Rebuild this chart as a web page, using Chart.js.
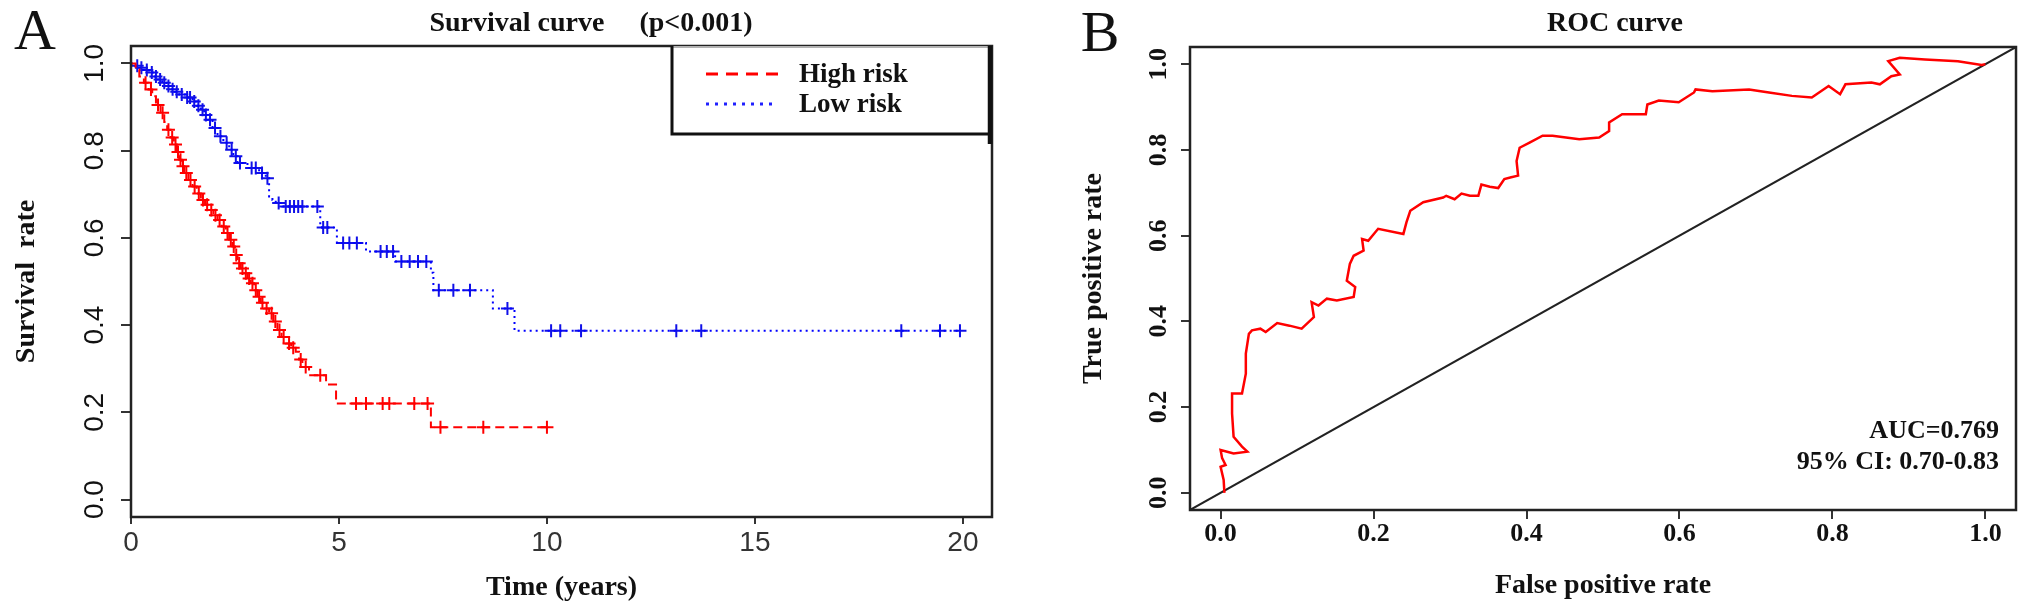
<!DOCTYPE html>
<html>
<head>
<meta charset="utf-8">
<title>Survival and ROC curves</title>
<script src="https://cdn.jsdelivr.net/npm/chart.js@4.4.0/dist/chart.umd.min.js"></script>
<style>
  html, body { margin: 0; padding: 0; background: #fff; }
  #wrap { position: relative; width: 2031px; height: 614px; overflow: hidden; }
  #survival-chart { position: absolute; left: 0; top: 0; }
  #roc-chart { position: absolute; left: 1030px; top: 0; }
</style>
</head>
<body>
<div id="wrap">
  <canvas id="survival-chart" width="1030" height="614"></canvas>
  <canvas id="roc-chart" width="1001" height="614"></canvas>
</div>
<script>
// ---- panel A: Kaplan-Meier curves (time in years, survival rate) ----
var highTime = [0, 0.11, 0.2, 0.31, 0.42, 0.51, 0.6, 0.71, 0.8, 0.87, 0.95, 1.03, 1.1, 1.16, 1.22, 1.28, 1.38, 1.48, 1.58,
  1.68, 1.78, 1.88, 1.98, 2.08, 2.18, 2.28, 2.36, 2.44, 2.5, 2.56, 2.64, 2.72, 2.8, 2.88, 2.96, 3.04, 3.12, 3.2, 3.32,
  3.42, 3.52, 3.62, 3.72, 3.85, 3.96, 4.04, 4.12, 4.28, 4.69, 4.93, 7.21, 10.0];
var highSurv = [1.0, 0.986, 0.97, 0.956, 0.94, 0.925, 0.905, 0.887, 0.866, 0.848, 0.83, 0.814, 0.797, 0.779, 0.764, 0.749, 0.733, 0.718, 0.702,
  0.687, 0.676, 0.664, 0.652, 0.641, 0.626, 0.611, 0.596, 0.58, 0.561, 0.542, 0.53, 0.519, 0.507, 0.496, 0.48, 0.465, 0.451, 0.438, 0.427,
  0.408, 0.389, 0.373, 0.358, 0.348, 0.339, 0.321, 0.304, 0.285, 0.264, 0.22, 0.166, 0.166];
var highCensor = [0.35, 0.48, 0.65, 0.76, 0.9, 0.99, 1.07, 1.13, 1.19, 1.25, 1.33, 1.43, 1.53, 1.63, 1.73, 1.83, 1.93, 2.03, 2.13,
  2.23, 2.32, 2.4, 2.47, 2.53, 2.6, 2.68, 2.76, 2.84, 2.92, 3.0, 3.08, 3.16, 3.26, 3.38, 3.47, 3.57, 3.67, 3.8, 3.9, 4.08,
  4.2, 4.55, 5.41, 5.65, 6.05, 6.21, 6.81, 7.13, 7.44, 8.47, 10.0];

var lowTime = [0, 0.1, 0.2, 0.3, 0.43, 0.55, 0.65, 0.75, 0.85, 0.95, 1.05, 1.16, 1.3, 1.48, 1.58, 1.68, 1.76, 1.84, 1.96,
  2.08, 2.22, 2.36, 2.46, 2.56, 2.8, 3.08, 3.24, 3.32, 3.4, 3.48, 3.64, 4.55, 4.95, 5.65, 6.35, 7.21, 7.27, 8.7, 9.22, 19.93];
var lowSurv = [1.0, 0.995, 0.99, 0.985, 0.979, 0.97, 0.963, 0.956, 0.948, 0.941, 0.935, 0.929, 0.922, 0.913, 0.903, 0.894, 0.882, 0.871, 0.852,
  0.833, 0.818, 0.802, 0.787, 0.772, 0.76, 0.749, 0.737, 0.695, 0.687, 0.68, 0.672, 0.624, 0.588, 0.569, 0.546, 0.52, 0.48, 0.438, 0.387, 0.387];
var lowCensor = [0.15, 0.25, 0.38, 0.5, 0.6, 0.7, 0.8, 0.9, 1.0, 1.1, 1.22, 1.35, 1.42, 1.52, 1.62, 1.72, 1.8, 1.9, 2.02, 2.15,
  2.3, 2.42, 2.52, 2.62, 2.9, 3.0, 3.15, 3.28, 3.55, 3.72, 3.82, 3.92, 4.02, 4.12, 4.48, 4.62, 4.72, 5.1, 5.25, 5.43,
  6.0, 6.15, 6.3, 6.5, 6.7, 6.9, 7.1, 7.4, 7.75, 8.15, 9.05, 10.1, 10.32, 10.82, 13.11, 13.71, 18.52, 19.45, 19.93];

var survTicksX = [0, 5, 10, 15, 20];
var survTicksY = [0, 0.2, 0.4, 0.6, 0.8, 1.0];

// ---- panel B: ROC curve ----
var rocFpr = [0.005, 0.004, 0.0, 0.0065, 0.002, 0.0, 0.017, 0.035, 0.028, 0.017, 0.015, 0.015, 0.028, 0.033, 0.033, 0.037, 0.041,
  0.052, 0.059, 0.074, 0.09, 0.106, 0.122, 0.119, 0.128, 0.139, 0.152, 0.174, 0.176, 0.165, 0.169, 0.174, 0.187, 0.185, 0.193,
  0.206, 0.239, 0.243, 0.248, 0.265, 0.291, 0.295, 0.306, 0.315, 0.326, 0.337, 0.341, 0.352, 0.363, 0.371, 0.38, 0.389, 0.387,
  0.391, 0.404, 0.421, 0.434, 0.469, 0.495,
  0.508, 0.508, 0.525, 0.556, 0.558, 0.573, 0.599, 0.619, 0.621, 0.643, 0.691, 0.717, 0.747, 0.773, 0.795, 0.81, 0.817, 0.851,
  0.862, 0.877, 0.888, 0.873, 0.888, 0.921, 0.964, 0.995, 1.0];
var rocTpr = [0.0, 0.03, 0.061, 0.065, 0.081, 0.1, 0.092, 0.096, 0.108, 0.131, 0.185, 0.232, 0.232, 0.278, 0.325, 0.371, 0.379,
  0.383, 0.375, 0.396, 0.39, 0.383, 0.41, 0.445, 0.437, 0.453, 0.449, 0.457, 0.48, 0.495, 0.534, 0.553, 0.565, 0.592, 0.588,
  0.616, 0.604, 0.631, 0.658, 0.678, 0.689, 0.693, 0.685, 0.698, 0.693, 0.693, 0.719, 0.714, 0.711, 0.732, 0.736, 0.74, 0.774,
  0.805, 0.817, 0.833, 0.833, 0.825, 0.829,
  0.844, 0.864, 0.883, 0.883, 0.906, 0.915, 0.911, 0.934, 0.941, 0.937, 0.941, 0.934, 0.926, 0.922, 0.949, 0.93, 0.953, 0.957,
  0.953, 0.972, 0.976, 1.007, 1.015, 1.011, 1.007, 0.998, 1.0];
var diagFpr = [-0.04, 1.04];
var diagTpr = [-0.04, 1.04];
var rocTicks = [0, 0.2, 0.4, 0.6, 0.8, 1.0];

var SERIF = '"Liberation Serif", "Times New Roman", serif';
var SANS = '"Liberation Sans", Arial, sans-serif';

function toPoints(xs, ys) {
  return xs.map(function(x, i) { return {x: x, y: ys[i]}; });
}

// survival value of a step curve at time t (for placing the censor marks on it)
function survAt(times, surv, t) {
  var v = surv[0];
  for (var i = 0; i < times.length; i++) {
    if (times[i] <= t + 1e-9) v = surv[i];
  }
  return v;
}

function censorPoints(times, surv, cens) {
  return cens.map(function(t) { return {x: t, y: survAt(times, surv, t)}; });
}

function fixedTicks(list) {
  return function(scale) {
    scale.ticks = list.map(function(v) { return {value: v}; });
  };
}

// draws the frame box, panel letter, title, rotated y labels (+ legend / notes)
function panelPlugin(cfg) {
  return {
    id: 'panel',
    afterDraw: function(chart) {
      var ctx = chart.ctx, ca = chart.chartArea, ys = chart.scales.y;
      ctx.save();

      ctx.strokeStyle = '#222';
      ctx.lineWidth = 2.5;
      ctx.strokeRect(ca.left, ca.top, ca.right - ca.left, ca.bottom - ca.top);

      ctx.fillStyle = '#111';
      ctx.textBaseline = 'middle';
      ctx.textAlign = 'center';
      ctx.font = '58px ' + SERIF;
      ctx.fillText(cfg.letter, cfg.letterX, cfg.letterY);

      ctx.font = 'bold 28px ' + SERIF;
      ctx.fillText(cfg.title, cfg.titleX, cfg.titleY);

      ctx.font = cfg.yFont;
      ys.ticks.forEach(function(tk) {
        var py = ys.getPixelForValue(tk.value);
        ctx.save();
        ctx.translate(cfg.yLabelX, py);
        ctx.rotate(-Math.PI / 2);
        ctx.fillText(tk.value.toFixed(1), 0, 0);
        ctx.restore();
      });

      if (cfg.legend) {
        var bx = ca.right - 320, by = ca.top, bw = 319, bh = 88;
        ctx.fillStyle = '#fff';
        ctx.fillRect(bx, by, bw, bh);
        ctx.strokeStyle = '#999';
        ctx.lineWidth = 1.5;
        ctx.beginPath(); ctx.moveTo(bx, by + 1); ctx.lineTo(bx + bw, by + 1); ctx.stroke();
        ctx.strokeStyle = '#111';
        ctx.lineWidth = 3;
        ctx.beginPath(); ctx.moveTo(bx, by); ctx.lineTo(bx, by + bh); ctx.lineTo(bx + bw, by + bh); ctx.stroke();
        ctx.lineWidth = 4.5;
        ctx.beginPath(); ctx.moveTo(bx + bw - 1, by); ctx.lineTo(bx + bw - 1, by + bh + 10); ctx.stroke();

        cfg.legend.forEach(function(item, i) {
          var ly = by + 28 + i * 30;
          ctx.strokeStyle = item.color;
          ctx.lineWidth = 3;
          ctx.setLineDash(item.dash);
          ctx.beginPath(); ctx.moveTo(bx + 34, ly); ctx.lineTo(bx + 106, ly); ctx.stroke();
          ctx.setLineDash([]);
          ctx.fillStyle = '#111';
          ctx.textAlign = 'left';
          ctx.font = 'bold 27px ' + SERIF;
          ctx.fillText(item.label, bx + 127, ly + 1);
        });
      }

      if (cfg.notes) {
        ctx.fillStyle = '#111';
        ctx.textAlign = 'right';
        ctx.font = 'bold 26px ' + SERIF;
        cfg.notes.forEach(function(n, i) {
          ctx.fillText(n, ca.right - 17, ca.bottom - 79 + i * 31);
        });
      }
      ctx.restore();
    }
  };
}

new Chart(document.getElementById('survival-chart'), {
  type: 'scatter',
  data: {
    datasets: [
      {
        label: 'High risk',
        data: toPoints(highTime, highSurv),
        showLine: true,
        stepped: true,
        borderColor: '#ff0000',
        borderWidth: 2,
        borderDash: [9, 5],
        pointRadius: 0
      },
      {
        label: 'Low risk',
        data: toPoints(lowTime, lowSurv),
        showLine: true,
        stepped: true,
        borderColor: '#0000ff',
        borderWidth: 2,
        borderDash: [2, 4],
        pointRadius: 0
      },
      {
        label: 'High risk censored',
        data: censorPoints(highTime, highSurv, highCensor),
        pointStyle: 'cross',
        pointRadius: 6.5,
        borderWidth: 2,
        borderColor: '#ff0000'
      },
      {
        label: 'Low risk censored',
        data: censorPoints(lowTime, lowSurv, lowCensor),
        pointStyle: 'cross',
        pointRadius: 6.5,
        borderWidth: 2,
        borderColor: '#1010e8'
      }
    ]
  },
  options: {
    responsive: false,
    animation: false,
    layout: { padding: { top: 46, right: 38, left: 0, bottom: 0 } },
    plugins: { legend: { display: false }, tooltip: { enabled: false } },
    scales: {
      x: {
        type: 'linear', min: 0, max: 20.7,
        afterBuildTicks: fixedTicks(survTicksX),
        afterFit: function(s) { s.height = 97; },
        grid: { drawOnChartArea: false, drawTicks: true, tickLength: 7, tickColor: '#333', lineWidth: 2 },
        border: { display: false },
        ticks: { color: '#333', padding: 2, font: { family: SANS, size: 28 }, callback: function(v) { return String(v); } },
        title: { display: true, text: 'Time (years)', color: '#111', padding: { top: 0, bottom: 9 },
                 font: { family: SERIF, size: 28, weight: 'bold' } }
      },
      y: {
        type: 'linear', min: -0.04, max: 1.04,
        afterBuildTicks: fixedTicks(survTicksY),
        afterFit: function(s) { s.width = 131; },
        grid: { drawOnChartArea: false, drawTicks: true, tickLength: 10, tickColor: '#333', lineWidth: 2 },
        border: { display: false },
        ticks: { color: 'rgba(0,0,0,0)', font: { family: SANS, size: 28 } },
        title: { display: true, text: 'Survival  rate', color: '#111', padding: { top: 10, bottom: 0 },
                 font: { family: SERIF, size: 28, weight: 'bold' } }
      }
    }
  },
  plugins: [panelPlugin({
    letter: 'A', letterX: 35, letterY: 34,
    title: 'Survival curve     (p<0.001)', titleX: 591, titleY: 24,
    yLabelX: 95, yFont: '28px ' + SANS,
    legend: [
      { label: 'High risk', color: '#ff0000', dash: [12, 8] },
      { label: 'Low risk', color: '#2020ff', dash: [3, 6] }
    ]
  })]
});

new Chart(document.getElementById('roc-chart'), {
  type: 'scatter',
  data: {
    datasets: [
      {
        label: 'ROC',
        data: toPoints(rocFpr, rocTpr),
        showLine: true,
        borderColor: '#ff0000',
        borderWidth: 2.5,
        pointRadius: 0
      },
      {
        label: 'Reference',
        data: toPoints(diagFpr, diagTpr),
        showLine: true,
        borderColor: '#222',
        borderWidth: 2,
        pointRadius: 0
      }
    ]
  },
  options: {
    responsive: false,
    animation: false,
    layout: { padding: { top: 47, right: 15, left: 0, bottom: 0 } },
    plugins: { legend: { display: false }, tooltip: { enabled: false } },
    scales: {
      x: {
        type: 'linear', min: -0.04, max: 1.04,
        afterBuildTicks: fixedTicks(rocTicks),
        afterFit: function(s) { s.height = 104; },
        grid: { drawOnChartArea: false, drawTicks: true, tickLength: 9, tickColor: '#333', lineWidth: 2 },
        border: { display: false },
        ticks: { color: '#111', padding: 0, font: { family: SERIF, size: 26, weight: 'bold' },
                 callback: function(v) { return v.toFixed(1); } },
        title: { display: true, text: 'False positive rate', color: '#111', padding: { top: 0, bottom: 11 },
                 font: { family: SERIF, size: 28, weight: 'bold' } }
      },
      y: {
        type: 'linear', min: -0.04, max: 1.04,
        afterBuildTicks: fixedTicks(rocTicks),
        afterFit: function(s) { s.width = 160; },
        grid: { drawOnChartArea: false, drawTicks: true, tickLength: 9, tickColor: '#333', lineWidth: 2 },
        border: { display: false },
        ticks: { color: 'rgba(0,0,0,0)', font: { family: SERIF, size: 26, weight: 'bold' } },
        title: { display: true, text: 'True positive rate', color: '#111', padding: { top: 47, bottom: 0 },
                 font: { family: SERIF, size: 28, weight: 'bold' } }
      }
    }
  },
  plugins: [panelPlugin({
    letter: 'B', letterX: 70, letterY: 36,
    title: 'ROC curve', titleX: 585, titleY: 24,
    yLabelX: 129, yFont: 'bold 26px ' + SERIF,
    notes: ['AUC=0.769', '95% CI: 0.70-0.83']
  })]
});
</script>
</body>
</html>
